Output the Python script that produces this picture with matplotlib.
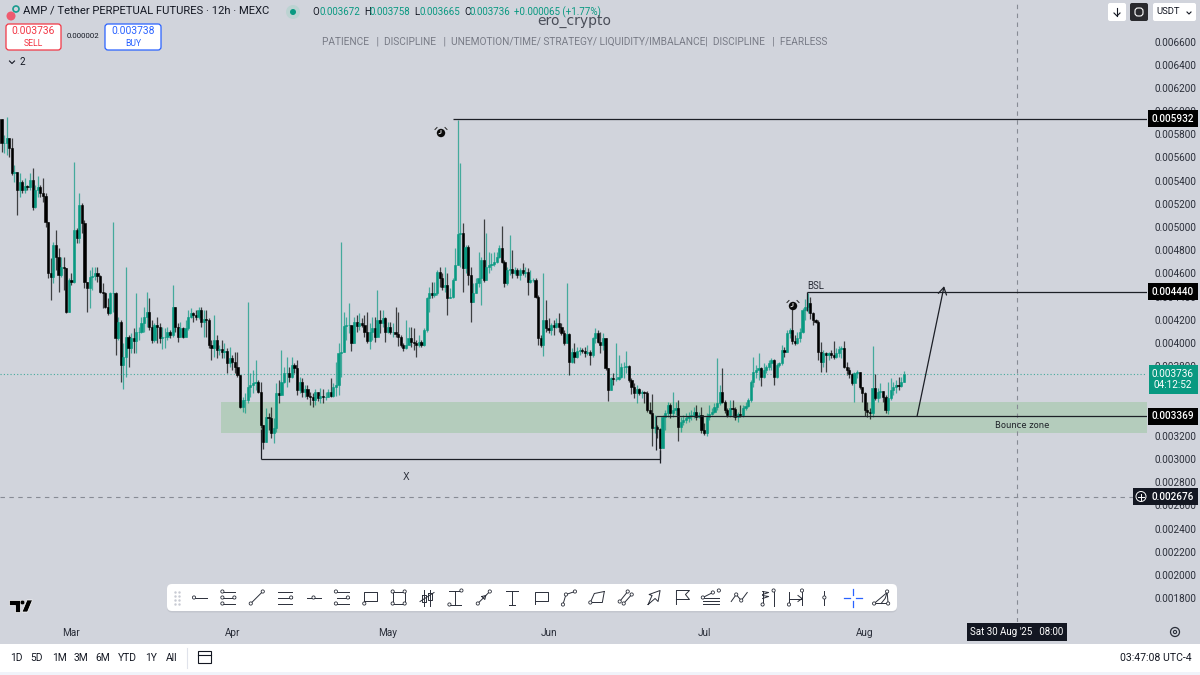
"""AMP / Tether 12h chart with hand-drawn levels, in a TradingView style layout."""

import matplotlib
matplotlib.use("Agg")
import matplotlib.dates as mdates
import matplotlib.pyplot as plt
import numpy as np
import pandas as pd
from matplotlib.patches import Circle, FancyBboxPatch, Polygon, Rectangle


# prices in millionths of a USDT, open = previous close
closes = [
    5722, 5722, 5765, 5678, 5463, 5477, 5319, 5391, 5319, 5354, 5342, 5405, 5175, 5319, 5342, 5290, 5267, 5046, 4600, 4571,
    4845, 4744, 4586, 4658, 4643, 4270, 4543, 4528, 4974, 4902, 5190, 5031, 4528, 4471, 4571, 4580, 4600, 4580, 4442, 4428,
    4313, 4255, 4428, 4433, 4040, 4183, 3810, 3882, 4054, 3953, 4040, 4020, 4097, 4097, 4169, 4226, 4270, 4140, 4025, 4155,
    4140, 4040, 4054, 4054, 4097, 4068, 4307, 4140, 4054, 4126, 4054, 4126, 4226, 4255, 4241, 4221, 4284, 4183, 4204, 4198,
    3982, 3953, 4025, 3939, 3945, 3925, 3933, 3824, 3867, 3838, 3795, 3723, 3450, 3508, 3508, 3623, 3637, 3651, 3666, 3580,
    3292, 3148, 3364, 3350, 3220, 3263, 3565, 3551, 3666, 3738, 3738, 3709, 3810, 3781, 3594, 3666,
    3580, 3600, 3542, 3531, 3508, 3580, 3522, 3542, 3536, 3536, 3580, 3542, 3623, 3637, 3910, 3925, 4146, 4155, 4155, 3996,
    4183, 4146, 4169, 4155, 4097, 4020, 4097, 4126, 4054, 4198, 4169, 4212, 4097, 4140, 4097, 4097, 4077, 4054, 3982, 3953,
    3982, 4040, 4011, 3996, 3982, 4011, 3982, 4112, 4385, 4428, 4413, 4428, 4615, 4557, 4485, 4500, 4385, 4399, 4543, 4672,
    4939, 4945, 4643, 4830, 4586, 4356, 4433, 4514, 4557, 4715, 4543, 4658, 4672, 4681, 4701, 4744, 4816, 4701, 4514, 4629,
    4635, 4600, 4629, 4586, 4629, 4600, 4615, 4528, 4543, 4543, 4399, 4040, 3982, 4198, 4126, 4112, 4155, 4140, 4169, 4140,
    4083, 3996, 4077, 3838, 3925, 3881, 3933, 3939, 3933, 3910, 3925, 3896, 4040, 4083, 4011,
    3982, 4040, 3781, 3594, 3695, 3686, 3689, 3709, 3790, 3795, 3801, 3680, 3623, 3565, 3600, 3565, 3580, 3571, 3421, 3393,
    3263, 3278, 3255, 3091, 3364, 3393, 3465, 3393, 3421, 3436, 3278, 3321, 3335, 3350, 3370, 3378, 3407, 3364, 3378, 3249,
    3220, 3364, 3387, 3407, 3450, 3479, 3580, 3493, 3421, 3378, 3436, 3427, 3364, 3387, 3378, 3436, 3456, 3508, 3666, 3752,
    3767, 3781, 3703, 3767, 3790, 3824, 3853, 3703, 3810, 3824, 3939, 3925, 4083, 4112, 4020, 4002, 4040, 4097, 4284, 4313,
    4341, 4255, 4198, 4183, 3925, 3838, 3910, 3896, 3910, 3896, 3876, 3910, 3945, 3953, 3795, 3767, 3732, 3651, 3738, 3752,
    3623, 3565, 3421, 3407, 3393, 3608, 3522, 3580, 3588, 3536, 3421, 3522, 3594, 3617, 3637, 3629, 3666, 3736,
]
highs = [
    5923, 5793, 5951, 5750, 5765, 5535, 5477, 5463, 5405, 5420, 5362, 5463, 5506, 5362, 5443, 5362, 5420, 5290, 5046, 4730,
    4873, 4974, 4816, 4744, 4744, 4643, 4557, 4600, 5563, 4988, 5290, 5204, 5060, 4528, 4629, 4658, 4658, 4658, 4586, 4514,
    4442, 4385, 4442, 5046, 4442, 4226, 4198, 3996, 4658, 4068, 4083, 4126, 4433, 4140, 4226, 4313, 4442, 4385, 4198, 4169,
    4226, 4169, 4140, 4126, 4140, 4112, 4500, 4313, 4169, 4183, 4140, 4198, 4284, 4298, 4270, 4284, 4313, 4313, 4284, 4284,
    4212, 4025, 4241, 4068, 3982, 4025, 3996, 3953, 3968, 3896, 3925, 3925, 3723, 3536, 3565, 4356, 3738, 3767, 3853, 3680,
    3666, 3292, 3436, 3393, 3450, 3350, 3651, 3680, 3939, 3795, 3881, 3795, 3881, 3824, 3853, 3709,
    3695, 3637, 3637, 3580, 3565, 3600, 3580, 3608, 3600, 3580, 3600, 3695, 3651, 3838, 3996, 4873, 4270, 4226, 4341, 4155,
    4226, 4241, 4255, 4212, 4241, 4270, 4169, 4226, 4226, 4457, 4284, 4284, 4226, 4183, 4183, 4169, 4313, 4270, 4068, 3996,
    4198, 4140, 4140, 4126, 4025, 4068, 4025, 4126, 4399, 4485, 4528, 4528, 4629, 4658, 4600, 4658, 4600, 4471, 4557, 4816,
    5923, 5549, 5037, 4845, 4845, 4658, 4514, 4557, 4787, 4744, 5066, 4951, 4787, 4773, 4787, 4787, 4845, 5008, 4715, 4658,
    4931, 4801, 4658, 4643, 4643, 4687, 4658, 4643, 4629, 4557, 4557, 4413, 4068, 4600, 4370, 4212, 4169, 4198, 4212, 4255,
    4169, 4112, 4514, 4083, 3953, 3996, 3968, 3962, 3953, 3962, 3982, 3939, 4054, 4126, 4112,
    4097, 4083, 3982, 3781, 3709, 3738, 3996, 3896, 3824, 3838, 3930, 3810, 3695, 3651, 3637, 3608, 3594, 3588, 3588, 3493,
    3557, 3378, 3292, 3263, 3378, 3421, 3493, 3479, 3580, 3493, 3508, 3364, 3378, 3393, 3407, 3421, 3450, 3465, 3407, 3450,
    3306, 3393, 3465, 3436, 3479, 3867, 3637, 3787, 3508, 3436, 3508, 3508, 3450, 3407, 3465, 3465, 3493, 3522, 3680, 3881,
    3810, 3910, 3795, 3824, 3810, 3853, 3867, 3858, 3824, 3838, 3982, 3962, 4112, 4126, 4327, 4068, 4097, 4126, 4298, 4376,
    4433, 4399, 4270, 4204, 4198, 4011, 3939, 3925, 3925, 3939, 4017, 3953, 3973, 3973, 4020, 3838, 3795, 3738, 3752, 3767,
    3743, 3623, 3580, 3493, 3436, 3973, 3732, 3608, 3651, 3588, 3551, 3666, 3695, 3666, 3680, 3703, 3709, 3758,
]
lows = [
    5650, 5635, 5621, 5606, 5448, 5391, 5103, 5261, 5290, 5290, 5319, 5319, 5146, 5161, 5261, 5256, 5218, 5003, 4557, 4370,
    4514, 4629, 4442, 4571, 4456, 4255, 4270, 4500, 4514, 4859, 4859, 4945, 4471, 4270, 4298, 4456, 4543, 4528, 4428, 4298,
    4298, 4241, 4249, 4270, 3896, 4025, 3666, 3600, 3709, 3795, 3910, 3910, 3910, 4025, 4083, 4097, 4140, 4112, 3996, 4011,
    3996, 3996, 3945, 3953, 4025, 4040, 4054, 4097, 4011, 4048, 4040, 4048, 4112, 4212, 4183, 4198, 4204, 4140, 4054, 4054,
    3953, 3853, 3882, 3867, 3896, 3867, 3867, 3738, 3795, 3767, 3738, 3709, 3436, 3407, 3398, 3479, 3536, 3565, 3594, 3565,
    3263, 3082, 3148, 3249, 3177, 3140, 3235, 3479, 3565, 3651, 3623, 3666, 3695, 3738, 3551, 3565,
    3536, 3531, 3513, 3465, 3445, 3465, 3502, 3479, 3485, 3508, 3531, 3531, 3536, 3542, 3551, 3709, 3925, 4025, 4083, 3933,
    3996, 4097, 4112, 4140, 4054, 3996, 3945, 4025, 4011, 4054, 4083, 4140, 4011, 4088, 4077, 4054, 4054, 3973, 3962, 3933,
    3945, 3982, 3968, 3939, 3876, 3962, 3962, 3973, 4097, 4270, 4385, 4399, 4413, 4485, 4456, 4442, 4241, 4385, 4385, 4543,
    4672, 4658, 4442, 4600, 4500, 4183, 4356, 4428, 4485, 4327, 4528, 4557, 4600, 4629, 4663, 4687, 4730, 4687, 4485, 4500,
    4586, 4557, 4586, 4557, 4543, 4586, 4571, 4413, 4514, 4528, 4385, 3982, 3968, 3887, 4097, 4083, 4068, 4068, 4126, 4097,
    4068, 3982, 3996, 3723, 3824, 3824, 3867, 3896, 3910, 3881, 3896, 3810, 3881, 3996, 3996,
    3910, 3939, 3767, 3502, 3600, 3637, 3674, 3680, 3695, 3695, 3738, 3666, 3559, 3522, 3479, 3551, 3522, 3479, 3407, 3387,
    3114, 3220, 3177, 2999, 3091, 3249, 3364, 3350, 3364, 3378, 3157, 3235, 3292, 3306, 3321, 3335, 3350, 3335, 3350, 3220,
    3206, 3200, 3335, 3378, 3399, 3421, 3465, 3479, 3393, 3364, 3364, 3364, 3335, 3321, 3364, 3364, 3421, 3444, 3493, 3623,
    3695, 3680, 3629, 3695, 3738, 3767, 3767, 3637, 3695, 3795, 3810, 3881, 3925, 4040, 3991, 3982, 3991, 4011, 4083, 4198,
    4255, 4204, 4155, 4169, 3853, 3752, 3795, 3752, 3853, 3867, 3858, 3867, 3881, 3867, 3781, 3723, 3695, 3637, 3493, 3695,
    3600, 3493, 3370, 3364, 3341, 3364, 3508, 3493, 3522, 3493, 3393, 3387, 3508, 3551, 3565, 3594, 3623, 3665,
]
first_candle = "2025-02-15 12:00"

price_ticks = [0.0018 + 0.0002 * k for k in range(25)]
month_labels = ["Mar", "Apr", "May", "Jun", "Jul", "Aug"]
month_starts = ["2025-03-01", "2025-04-01", "2025-05-01", "2025-06-01", "2025-07-01", "2025-08-01"]

last_price = 0.003736
top_level = 0.005932
bsl_level = 0.004440
bounce_level = 0.003369
crosshair_price = 0.002676
crosshair_time = "2025-08-30 08:00"
zone_low, zone_high = 0.003224, 0.003491
x_low = 0.002999
range_buttons = ["1D", "5D", "1M", "3M", "6M", "YTD", "1Y", "All"]

BG = "#d1d4dc"
UP = "#089981"
DARK = "#131722"
PANE_W, PANE_H = 1147, 622
PX_PER_DAY = 5.185

plt.rcParams["font.family"] = ["Roboto", "DejaVu Sans"]

fig = plt.figure(figsize=(12, 6.75), dpi=100, facecolor=BG)
ax = fig.add_axes([0, (675 - PANE_H) / 675, PANE_W / 1200, PANE_H / 675], facecolor=BG)

close = np.array(closes) / 1e6
high = np.array(highs) / 1e6
low = np.array(lows) / 1e6
open_ = np.r_[0.005930, close[:-1]]
times = mdates.date2num(pd.date_range(first_candle, periods=len(close), freq="12h"))
up = close >= open_
colors = np.where(up, UP, "#000000")

# first candle sits 1.5 px in from the left edge
x0 = times[0] - 1.5 / PX_PER_DAY
ax.set_xlim(x0, x0 + PANE_W / PX_PER_DAY)
ax.set_ylim(0.001594, 0.006958)

ax.axhspan(zone_low, zone_high, xmin=221 / PANE_W, color="#b4ccbc", lw=0, zorder=1)

wick_lo = np.minimum(low, np.minimum(open_, close))
wick_hi = np.maximum(high, np.maximum(open_, close))
ax.vlines(times, wick_lo, wick_hi, colors=colors, lw=0.9, alpha=0.7, zorder=2)
ax.bar(times, np.abs(close - open_), bottom=np.minimum(open_, close), width=0.42,
       color=colors, edgecolor=colors, linewidth=0.4, zorder=3)

ax.axhline(last_price, color=UP, lw=0.8, ls=(0, (1, 2)), alpha=0.7, zorder=2)
ax.axhline(crosshair_price, color="#878b94", lw=0.8, ls=(0, (4, 4)), zorder=2)
ax.axvline(mdates.date2num(pd.Timestamp(crosshair_time)), color="#878b94", lw=0.8, ls=(0, (4, 4)), zorder=2)


def day(stamp):
    return mdates.date2num(pd.Timestamp(stamp))


line_kw = dict(color="#1c1f26", lw=0.9, zorder=4, solid_capstyle="butt")
right_edge = ax.get_xlim()[1]
ax.plot([day("2025-05-13 16:00"), right_edge], [top_level, top_level], **line_kw)
ax.plot([day("2025-07-20 22:00"), right_edge], [bsl_level, bsl_level], **line_kw)
ax.plot([day("2025-07-20 22:00")] * 2, [bsl_level, 0.00428], **line_kw)
ax.plot([day("2025-06-21 19:00"), right_edge], [bounce_level, bounce_level], **line_kw)
ax.plot([day("2025-06-21 19:00")] * 2, [bounce_level, 0.00308], **line_kw)
ax.plot([day("2025-04-06 12:00"), day("2025-06-22 10:00")], [x_low, x_low], **line_kw)
ax.plot([day("2025-04-06 12:00")] * 2, [x_low, 0.00326], **line_kw)
ax.plot([day("2025-06-22 10:00")] * 2, [x_low - 0.00003, x_low + 0.00008], **line_kw)
ax.annotate("", xy=(day("2025-08-16 07:00"), 0.00449), xytext=(day("2025-08-11 02:00"), bounce_level),
            arrowprops=dict(arrowstyle="->,head_width=0.3,head_length=0.5", color="#1c1f26", lw=0.9,
                            shrinkA=0, shrinkB=0), zorder=4)

ax.text(day("2025-07-22 12:00"), 0.00449, "BSL", fontsize=7, color="#2a2e39", ha="center", va="center", zorder=5)
ax.text(day("2025-05-04 12:00"), 0.002845, "X", fontsize=7, color="#2a2e39", ha="center", va="center",
        family="DejaVu Sans", zorder=5)
ax.text(day("2025-08-31 08:00"), 0.00329, "Bounce zone", fontsize=6.0, color="#1c1f26", ha="center", va="center",
        family="DejaVu Sans", zorder=5)

for spine in ax.spines.values():
    spine.set_visible(False)
ax.yaxis.tick_right()
ax.set_yticks(price_ticks, [f"{p:.6f}" for p in price_ticks])
ax.tick_params(axis="y", length=0, pad=5.5, labelsize=7.2, labelcolor="#2a2e39")
ax.set_xticks([day(m) for m in month_starts], month_labels)
ax.tick_params(axis="x", length=0, pad=4, labelsize=7.2, labelcolor="#2a2e39")

# price tags on the scale, laid over the tick labels
tag_x = 1.0 + 26 / PANE_W
tag_trans = ax.get_yaxis_transform()
for level, bg in [(top_level, "#000000"), (bsl_level, "#000000"), (bounce_level, "#000000"), (crosshair_price, DARK)]:
    ax.text(tag_x, level, f"{level:.6f}", transform=tag_trans, ha="center", va="center", fontsize=7.2, color="white",
            fontweight="medium", bbox=dict(boxstyle="square,pad=0.35", fc=bg, ec="none"), zorder=6, clip_on=False)
ax.text(tag_x, last_price - 0.00005, f"{last_price:.6f}\n04:12:52", transform=tag_trans, ha="center", va="center",
        fontsize=7.2, color="white", linespacing=1.2,
        bbox=dict(boxstyle="square,pad=0.35", fc=UP, ec="none"), zorder=6, clip_on=False)

# everything that is screen furniture goes on a pixel overlay
ui = fig.add_axes([0, 0, 1, 1], zorder=10)
ui.set_xlim(0, 1200)
ui.set_ylim(675, 0)
ui.axis("off")
ui.patch.set_alpha(0)

ui.add_patch(Rectangle((0, 644), 1200, 28, fc="white", ec="none"))
ui.add_patch(Rectangle((0, 672), 1200, 3, fc="#f0f3fa", ec="none"))
for label, x in zip(range_buttons, [16, 37, 59, 81, 103, 127, 151, 172]):
    ui.text(x, 658, label, fontsize=7.4, color=DARK, ha="center", va="center")
ui.plot([187, 187], [648, 668], color="#e0e3eb", lw=0.8)
ui.add_patch(Rectangle((198, 651), 13, 12, fc="none", ec=DARK, lw=0.8))
ui.plot([198, 211], [655, 655], color=DARK, lw=0.8)
ui.text(1192, 658, "03:47:08 UTC-4", fontsize=7.6, color=DARK, ha="right", va="center")
ui.add_patch(Circle((1175, 632), 4.5, fc="none", ec="#2a2e39", lw=0.9))
ui.add_patch(Circle((1175, 632), 1.6, fc="none", ec="#2a2e39", lw=0.8))
ui.add_patch(Rectangle((967, 623), 100, 18, fc=DARK, ec="none"))
ui.text(1017, 632, "Sat 30 Aug '25   08:00", fontsize=7.0, color="white", ha="center", va="center")

# header
ui.add_patch(Circle((11, 16), 4.5, fc="#ef5a6f", ec="none"))
ui.add_patch(Circle((16, 9), 3, fc="none", ec="#1a9c8f", lw=1.2))
ui.text(23, 11, "AMP / Tether PERPETUAL FUTURES · 12h · MEXC", fontsize=8.1, color=DARK, ha="left", va="center")
ui.add_patch(Circle((293, 12), 7, fc="#bcd3d2", ec="none"))
ui.add_patch(Circle((293, 12), 3, fc=UP, ec="none"))
for x, label, col in [(312, "O", DARK), (319, "0.003672", UP), (364, "H", DARK), (370, "0.003758", UP),
                      (414, "L", DARK), (420, "0.003665", UP), (464, "C", DARK), (470, "0.003736", UP),
                      (514, "+0.000065 (+1.77%)", UP)]:
    ui.text(x, 12, label, fontsize=7.0, color=col, ha="left", va="center")

for x, w, col, top, bottom in [(6, 55, "#f23645", "0.003736", "SELL"), (105, 56, "#2962ff", "0.003738", "BUY")]:
    ui.add_patch(FancyBboxPatch((x + 2, 26), w - 4, 22, boxstyle="round,pad=2,rounding_size=3", fc="white",
                                ec=col, lw=0.9, mutation_scale=1))
    ui.text(x + w / 2, 31, top, fontsize=7.4, color=col, ha="center", va="center")
    ui.text(x + w / 2, 43, bottom, fontsize=6.2, color=col, ha="center", va="center")
ui.text(83, 36, "0.000002", fontsize=5.6, color=DARK, ha="center", va="center")
ui.plot([9.5, 12, 14.5], [61, 63.5, 61], color=DARK, lw=0.8)
ui.text(22, 62, "2", fontsize=7, color=DARK, ha="center", va="center")

# watermark
ui.text(574, 21, "ero_crypto", fontsize=10, color="#4a4e59", ha="center", va="center", family="DejaVu Sans")
ui.text(574.5, 42, "PATIENCE   |  DISCIPLINE   |  UNEMOTION/TIME/ STRATEGY/ LIQUIDITY/IMBALANCE|  DISCIPLINE   |  FEARLESS",
        fontsize=7.3, color="#787b86", ha="center", va="center")

# top right buttons
for x, w, fc in [(1108, 18, "white"), (1130, 18, "#2a2a2e"), (1153, 43, "white")]:
    ui.add_patch(FancyBboxPatch((x + 2, 5), w - 4, 14, boxstyle="round,pad=2,rounding_size=2", fc=fc, ec="none",
                                mutation_scale=1))
ui.plot([1117, 1117], [8, 16], color=DARK, lw=0.8)
ui.plot([1114, 1117, 1120], [13, 16, 13], color=DARK, lw=0.8)
ui.add_patch(FancyBboxPatch((1135, 8), 8, 8, boxstyle="round,pad=0,rounding_size=3", fc="none", ec="white", lw=0.8,
                            mutation_scale=1))
ui.text(1156, 12, "USDT", fontsize=6.8, color=DARK, ha="left", va="center")
ui.plot([1187, 1189, 1191], [12, 14, 12], color=DARK, lw=0.8)

# crosshair plus button
ui.add_patch(Rectangle((1133, 488), 16, 17, fc=DARK, ec="none"))
ui.add_patch(Circle((1141, 496.5), 5, fc="none", ec="white", lw=0.7))
ui.plot([1138, 1144], [496.5, 496.5], color="white", lw=0.7)
ui.plot([1141, 1141], [493.5, 499.5], color="white", lw=0.7)

# alarm clocks
for cx, cy in [(441, 133), (793, 306)]:
    ui.add_patch(Circle((cx, cy), 4.2, fc="#0b0b0b", ec="none"))
    ui.plot([cx, cx, cx - 2], [cy - 2.5, cy, cy + 0.8], color="white", lw=0.6)
    ui.plot([cx - 6, cx - 4], [cy - 3.5, cy - 5.5], color="#222222", lw=0.7)
    ui.plot([cx + 6, cx + 4], [cy - 3.5, cy - 5.5], color="#222222", lw=0.7)

# TV logo
ui.add_patch(Polygon([(9, 600), (20, 600), (20, 612), (15, 612), (15, 605), (9, 605)], fc="black", ec="white", lw=0.5))
ui.add_patch(Circle((22.5, 602.5), 2.3, fc="black", ec="white", lw=0.3))
ui.add_patch(Polygon([(27, 600), (32.5, 600), (27.5, 612), (22, 612)], fc="black", ec="white", lw=0.5))

# drawing toolbar
ui.add_patch(FancyBboxPatch((169, 587.5), 726, 23, boxstyle="round,pad=2,rounding_size=5", fc="#c3c6ce", ec="none",
                            mutation_scale=1, zorder=1))
ui.add_patch(FancyBboxPatch((169, 586), 726, 23, boxstyle="round,pad=2,rounding_size=5", fc="white", ec="none",
                            mutation_scale=1, zorder=2))
for gx in (175, 179):
    for gy in (592, 596, 600, 604):
        ui.plot([gx], [gy], ".", color="#c8cbd3", ms=1.5, zorder=3)

ICONS = [
    ([[(-5, 0), (7, 0)]], [(-6, 0)]),
    ([[(-5, -6), (7, -6)], [(-5, 0), (7, 0)], [(-5, 6), (7, 6)]], [(-6, -6), (-6, 0), (-6, 6), (6, 0)]),
    ([[(-6, 6), (6, -6)]], [(-6, 6), (6, -6)]),
    ([[(-7, -6), (7, -6)], [(-7, 0), (7, 0)], [(-7, 6), (7, 6)]], [(6, 0)]),
    ([[(-7, 0), (7, 0)]], [(0, 0)]),
    ([[(-5, -6), (7, -6)], [(-5, 0), (7, 0)], [(-5, 6), (7, 6)]], [(-6, -6), (-6, 6), (6, 0)]),
    ([[(-6, 6), (-6, -6), (7, -6), (7, 3), (-6, 3)]], [(-6, 6)]),
    ([[(-6, -6), (6, -6), (6, 6), (-6, 6), (-6, -6)]], [(-6, -6), (6, -6), (6, 6), (-6, 6)]),
    ([[(-3, -8), (-3, 8)], [(3, -8), (3, 8)], [(-5, -3), (-1, -3), (-1, 4), (-5, 4), (-5, -3)],
      [(1, -5), (5, -5), (5, 2), (1, 2), (1, -5)], [(-7, 4), (7, -5)]], []),
    ([[(-6, -7), (6, -7)], [(-6, 7), (6, 7)], [(0, -7), (0, 7)]], [(6, -7), (-6, 7)]),
    ([[(-6, 6), (6, -6)], [(-2, -1), (2, -2), (1, 2), (-2, -1)]], [(-6, 6), (6, -6)]),
    ([[(-6, -7), (6, -7)], [(0, -7), (0, 7)], [(-3, 7), (3, 7)]], []),
    ([[(-6, 6), (-6, -6), (7, -6), (7, 3), (-6, 3)]], []),
    ([[(-6, 7), (-3, -3), (6, -6)]], [(-6, 7), (-3, -3), (6, -6)]),
    ([[(-7, 5), (-3, -4), (7, -6)], [(-7, 5), (5, 5), (7, -6)]], [(-7, 5)]),
    ([[(-6, 4), (2, -6)], [(-2, 6), (6, -3)]], [(-6, 4), (2, -6), (-2, 6), (6, -3)]),
    ([[(-6, 7), (-2, -2), (-5, -3), (6, -7), (4, 4), (1, 1), (-6, 7)]], []),
    ([[(-6, 7), (-6, -7), (7, -7), (3, -3), (7, 2), (-6, 2)]], []),
    ([[(-8, 3), (8, 3)], [(-8, 6), (8, 6)], [(-8, 0), (2, -5)], [(-8, 0), (8, 0)]], [(-8, 0), (2, -5), (8, -7)]),
    ([[(-8, 4), (-3, -3), (2, 3), (8, -5)]], [(-3, -3), (2, 3)]),
    ([[(-5, 7), (-5, -7)], [(-5, -6), (1, -5), (-5, -3)], [(-5, -2), (1, -1), (-5, 1)], [(6, -6), (6, 8)]], [(-5, 7), (6, -7)]),
    ([[(-7, -6), (-7, 7)], [(-7, 1), (6, 1)], [(6, -6), (6, 7)], [(2, -2), (6, 1), (2, 4)]], [(6, -7), (-7, 7)]),
    ([[(0, -7), (0, 7)]], [(0, 0)]),
    None,
    ([[(-7, 6), (7, 6), (6, -5), (-7, 6)], [(6, -5), (4, 1), (0, 6)]], [(-7, 6), (7, 6), (6, -6)]),
]
icon_x = [200 + 28.38 * k for k in range(25)]
for cx, icon in zip(icon_x, ICONS):
    cy = 597.5
    if icon is None:
        for dx, dy in [(1, 0), (-1, 0), (0, 1), (0, -1)]:
            ui.plot([cx + 3 * dx, cx + 9 * dx], [cy + 3 * dy, cy + 9 * dy], color="#2962ff", lw=0.9, zorder=3)
        continue
    segments, nodes = icon
    for seg in segments:
        pts = np.array(seg)
        ui.plot(cx + pts[:, 0], cy + pts[:, 1], color="#2a2e39", lw=0.7, zorder=3)
    for nx, ny in nodes:
        ui.add_patch(Circle((cx + nx, cy + ny), 1.6, fc="white", ec="#2a2e39", lw=0.6, zorder=4))

fig.savefig("out.png", dpi=100, facecolor=BG)
